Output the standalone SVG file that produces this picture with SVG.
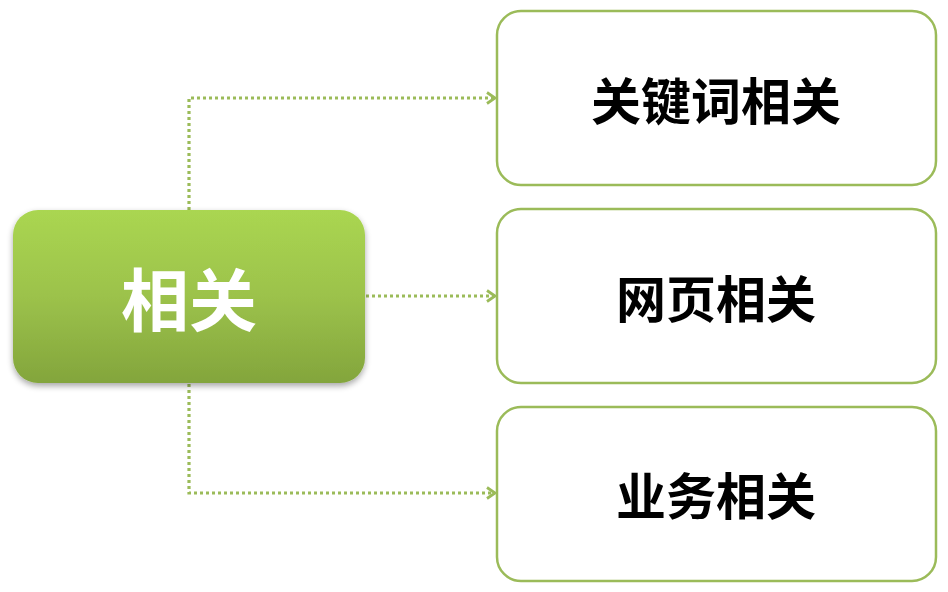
<svg xmlns="http://www.w3.org/2000/svg" width="948" height="592" viewBox="0 0 948 592">
<style>
.box{fill:#fff;stroke:#9BBB59;stroke-width:2.5}
.lbl{font-family:"Noto Sans CJK SC","Liberation Sans",sans-serif;font-weight:bold;font-size:50px;fill:#000;text-anchor:middle;dominant-baseline:central}
.conn{fill:none;stroke:#9BBB59;stroke-width:3.2;stroke-dasharray:3 3}
</style>
<defs>
<linearGradient id="g" x1="0" y1="0" x2="0" y2="1">
<stop offset="0" stop-color="#AAD651"/>
<stop offset="0.5" stop-color="#9CC24B"/>
<stop offset="1" stop-color="#83A53C"/>
</linearGradient>
<filter id="sh" x="-10%" y="-10%" width="120%" height="130%">
<feGaussianBlur in="SourceAlpha" stdDeviation="3"/>
<feOffset dx="0" dy="3"/>
<feComponentTransfer><feFuncA type="linear" slope="0.35"/></feComponentTransfer>
<feMerge><feMergeNode/><feMergeNode in="SourceGraphic"/></feMerge>
</filter>
<marker id="arr" markerWidth="14" markerHeight="14" refX="11" refY="7" orient="auto" markerUnits="userSpaceOnUse">
<path d="M3,1.5 L11,7 L3,12.5" fill="none" stroke="#9BBB59" stroke-width="2.8"/>
</marker>
</defs>
<g id="connectors">
<path class="conn" d="M189,210 V98 H495" marker-end="url(#arr)"/>
<path class="conn" d="M366,296 H495" marker-end="url(#arr)"/>
<path class="conn" d="M189,384 V493 H495" marker-end="url(#arr)"/>
</g>
<g id="root">
<rect x="13" y="210" width="352" height="173" rx="25" fill="url(#g)" filter="url(#sh)"/>
<text class="lbl" x="189" y="296" style="font-size:68px;fill:#fff">相关</text>
</g>
<g id="n1">
<rect class="box" x="497" y="11" width="439" height="174" rx="24"/>
<text class="lbl" x="716" y="98">关键词相关</text>
</g>
<g id="n2">
<rect class="box" x="497" y="209" width="439" height="174" rx="24"/>
<text class="lbl" x="716" y="296">网页相关</text>
</g>
<g id="n3">
<rect class="box" x="497" y="407" width="439" height="174" rx="24"/>
<text class="lbl" x="716" y="493">业务相关</text>
</g>
</svg>
